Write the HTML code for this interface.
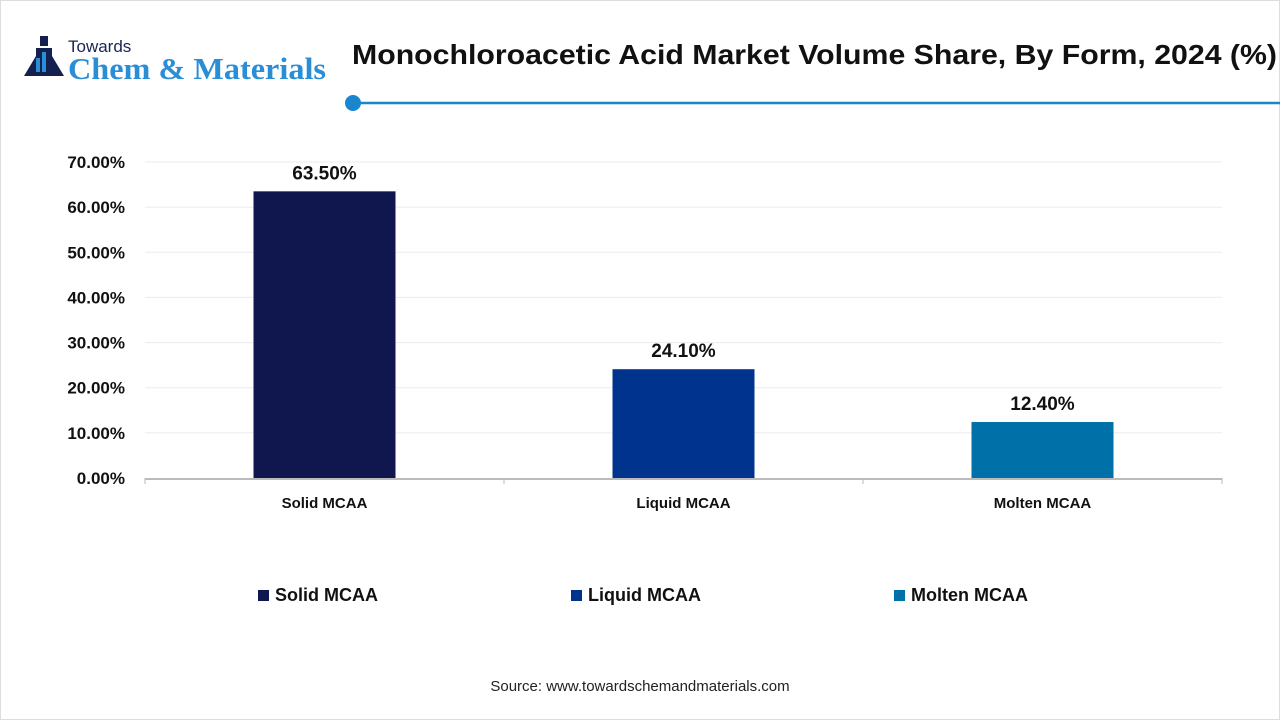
<!DOCTYPE html>
<html><head><meta charset="utf-8">
<style>
html,body{margin:0;padding:0;background:#fff;}
body{width:1280px;height:720px;overflow:hidden;font-family:"Liberation Sans",sans-serif;}
</style></head>
<body>
<svg width="1280" height="720" viewBox="0 0 1280 720" xmlns="http://www.w3.org/2000/svg">
  <rect x="0.5" y="0.5" width="1279" height="719" fill="#fff" stroke="#ddd"/>
  <g>
    <rect x="40" y="36" width="8" height="10" fill="#14204f"/>
    <path d="M36 48 L52 48 L52 56 L64 76 L24 76 L36 56 Z" fill="#14204f"/>
    <rect x="36" y="58" width="4" height="14" fill="#2a8ed6"/>
    <rect x="42" y="52" width="4" height="20" fill="#2a8ed6"/>
    <text x="68" y="52" font-size="17" fill="#1a2456">Towards</text>
    <text x="68" y="79" font-size="31" font-family="Liberation Serif,serif" font-weight="bold" fill="#2a8ed6" textLength="258" lengthAdjust="spacingAndGlyphs">Chem &amp; Materials</text>
  </g>
  <text x="352" y="64" font-size="28" font-weight="bold" fill="#111" textLength="925" lengthAdjust="spacingAndGlyphs">Monochloroacetic Acid Market Volume Share, By Form, 2024 (%)</text>
  <line x1="352" y1="103" x2="1280" y2="103" stroke="#1a86d0" stroke-width="2.5"/>
  <circle cx="353" cy="103" r="8" fill="#1a86d0"/>
  <g id="grid"></g>
  <g id="bars"></g>
  <g id="legend"></g>
  <text x="640" y="691" font-size="15" fill="#222" text-anchor="middle">Source: www.towardschemandmaterials.com</text>
</svg>
<script>
const categories = ["Solid MCAA","Liquid MCAA","Molten MCAA"];
const values = [63.5, 24.1, 12.4];
const colors = ["#10174e","#00338d","#0070a8"];
const yTicks = [0,10,20,30,40,50,60,70];
const NS="http://www.w3.org/2000/svg";
const x0=145,x1=1222,yBase=478,yTop=162,yMax=70;
const y=v=>yBase-(v/yMax)*(yBase-yTop);
const band=(x1-x0)/categories.length;
const xc=i=>x0+band*(i+0.5);
const bw=142;
function mk(tag,attrs,parent,txt){const e=document.createElementNS(NS,tag);for(const k in attrs)e.setAttribute(k,attrs[k]);if(txt!==undefined)e.textContent=txt;parent.appendChild(e);return e;}
const grid=document.getElementById('grid'),bars=document.getElementById('bars'),legend=document.getElementById('legend');
yTicks.forEach(t=>{
  if(t>0){const l=mk('line',{x1:x0,x2:x1,y1:y(t),y2:y(t),stroke:'#ebebeb'},grid);
  
  }
  const tx=mk('text',{x:125,y:y(t)+6,'font-size':17,'font-weight':'bold','text-anchor':'end',fill:'#111'},grid,t.toFixed(2)+'%');
  
  
});
const ax=mk('line',{x1:x0,x2:x1,y1:yBase+1,y2:yBase+1,stroke:'#bbb','stroke-width':2},grid);


for(let i=0;i<=categories.length;i++){const tk=mk('line',{x1:x0+band*i,x2:x0+band*i,y1:yBase,y2:yBase+6,stroke:'#bbb'},grid);

}
categories.forEach((c,i)=>{
  const r=mk('rect',{x:xc(i)-bw/2,y:y(values[i]),width:bw,height:yBase-y(values[i]),fill:colors[i]},bars);
  
  
  const v=mk('text',{x:xc(i),y:y(values[i])-12,'font-size':19,'font-weight':'bold','text-anchor':'middle',fill:'#111'},bars,values[i].toFixed(2)+'%');
  
  
  const xl=mk('text',{x:xc(i),y:508,'font-size':15,'font-weight':'bold','text-anchor':'middle',fill:'#111'},bars,c);
  
  
});
const lx=[258,571,894];
categories.forEach((c,i)=>{
  const g=mk('g',{},legend);
  
  
  mk('rect',{x:lx[i],y:590,width:11,height:11,fill:colors[i]},g);
  mk('text',{x:lx[i]+17,y:601,'font-size':18,'font-weight':'bold',fill:'#111'},g,c);
});
</script>
</body></html>
